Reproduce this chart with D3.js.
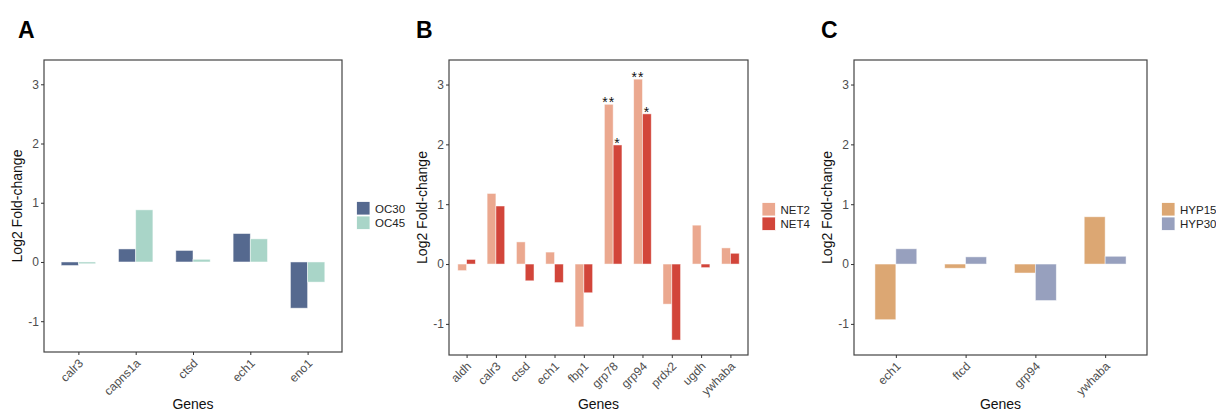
<meta charset="utf-8">
<script src="https://cdn.jsdelivr.net/npm/d3@7"></script>

<style>
  body { margin: 0; background: #fff; }
  text { font-family: "Liberation Sans", Arial, sans-serif; }
  .tick line { stroke: #333; }
  .tick text { fill: #4d4d4d; }
</style>

<div id="chart"></div>

<script>
// ---- data ----
var genesA = ["calr3", "capns1a", "ctsd", "ech1", "eno1"];
var seriesA = ["OC30", "OC45"];
var oc30 = [-0.06, 0.22, 0.195, 0.48, -0.78];
var oc45 = [-0.03, 0.88, 0.045, 0.39, -0.34];

var genesB = ["aldh", "calr3", "ctsd", "ech1", "fbp1", "grp78", "grp94", "prdx2", "ugdh", "ywhaba"];
var seriesB = ["NET2", "NET4"];
var net2 = [-0.11, 1.18, 0.37, 0.2, -1.05, 2.67, 3.09, -0.67, 0.65, 0.27];
var net4 = [0.077, 0.97, -0.28, -0.31, -0.48, 1.99, 2.51, -1.27, -0.06, 0.18];
var sigNet2 = ["", "", "", "", "", "**", "**", "", "", ""];
var sigNet4 = ["", "", "", "", "", "*", "*", "", "", ""];

var genesC = ["ech1", "ftcd", "grp94", "ywhaba"];
var seriesC = ["HYP15", "HYP30"];
var hyp15 = [-0.93, -0.07, -0.15, 0.79];
var hyp30 = [0.255, 0.12, -0.61, 0.13];

var yTicks = [-1, 0, 1, 2, 3];

var svg = d3.select("#chart").append("svg")
  .attr("width", 1216)
  .attr("height", 412);

function drawPanel(p) {
  var g = svg.append("g");

  // x scale: discrete with 0.6 expansion on each side (like ggplot)
  var n = p.genes.length;
  var unit = (p.right - p.left) / (n - 1 + 1.2);
  var x = d3.scalePoint()
    .domain(p.genes)
    .range([p.left + 0.6 * unit, p.right - 0.6 * unit]);

  var y = d3.scaleLinear()
    .domain([-1.52, 3.41])
    .range([p.bottom, p.top]);

  var barW = 0.3 * unit;

  // bars, dodged
  p.values.forEach(function(vals, si) {
    g.selectAll(null)
      .data(vals)
      .enter()
      .append("rect")
        .attr("x", function(d, i) { return x(p.genes[i]) - barW + si * barW; })
        .attr("y", function(d) { return y(Math.max(0, d)); })
        .attr("width", barW)
        .attr("height", function(d) { return Math.abs(y(d) - y(0)); })
        .attr("fill", p.colors[si])
        .attr("stroke", "#ffffff")
        .attr("stroke-opacity", 0.6)
        .attr("stroke-width", 0.8);
  });

  // significance stars
  if (p.sig) {
    p.sig.forEach(function(labels, si) {
      g.selectAll(null)
        .data(labels)
        .enter()
        .append("text")
          .attr("x", function(d, i) { return x(p.genes[i]) - barW / 2 + si * barW; })
          .attr("y", function(d, i) { return y(p.values[si][i]) + 3; })
          .attr("text-anchor", "middle")
          .style("font-size", "14px")
          .style("letter-spacing", "1px")
          .style("fill", "#111")
          .text(function(d) { return d; });
    });
  }

  // panel border
  g.append("rect")
    .attr("x", p.left)
    .attr("y", p.top)
    .attr("width", p.right - p.left)
    .attr("height", p.bottom - p.top)
    .attr("fill", "none")
    .attr("stroke", "#444")
    .attr("stroke-width", 1.2);

  // y axis
  var ya = g.append("g")
    .attr("transform", "translate(" + p.left + ",0)")
    .call(d3.axisLeft(y).tickValues(yTicks).tickSize(3).tickPadding(2)
      .tickFormat(function(d) { return String(d); }));
  ya.select(".domain").remove();
  ya.selectAll("text").style("font-size", "12px");

  // x axis
  var xa = g.append("g")
    .attr("transform", "translate(0," + p.bottom + ")")
    .call(d3.axisBottom(x).tickSize(3));
  xa.select(".domain").remove();
  xa.selectAll("text")
    .attr("y", 0)
    .attr("dy", 0)
    .attr("transform", "translate(5,12) rotate(-45)")
    .style("text-anchor", "end")
    .style("font-size", "12px");

  // axis titles
  g.append("text")
    .attr("transform", "translate(" + p.ylabX + "," + ((p.top + p.bottom) / 2) + ") rotate(-90)")
    .attr("text-anchor", "middle")
    .style("font-size", "14px")
    .style("fill", "#111")
    .text("Log2 Fold-change");

  g.append("text")
    .attr("x", (p.left + p.right) / 2)
    .attr("y", 409)
    .attr("text-anchor", "middle")
    .style("font-size", "14px")
    .style("fill", "#111")
    .text("Genes");

  // panel letter
  g.append("text")
    .attr("x", p.letterX)
    .attr("y", 38)
    .style("font-size", "23px")
    .style("font-weight", "bold")
    .style("fill", "#000")
    .text(p.letter);

  // legend
  p.series.forEach(function(s, si) {
    g.append("rect")
      .attr("x", p.legX)
      .attr("y", p.legY + si * 14.5)
      .attr("width", 13.5)
      .attr("height", 13.5)
      .attr("fill", p.colors[si])
      .attr("stroke", "#fff")
      .attr("stroke-width", 0.8);
    g.append("text")
      .attr("x", p.legX + 18.5)
      .attr("y", p.legY + si * 14.5 + 11)
      .style("font-size", "11.5px")
      .style("fill", "#222")
      .text(s);
  });
}

drawPanel({
  letter: "A", letterX: 18,
  genes: genesA, series: seriesA, values: [oc30, oc45],
  colors: ["#55698f", "#a9d5c8"],
  left: 44, right: 342, top: 60, bottom: 352,
  ylabX: 22, legX: 356.5, legY: 201.5
});

drawPanel({
  letter: "B", letterX: 416,
  genes: genesB, series: seriesB, values: [net2, net4],
  sig: [sigNet2, sigNet4],
  colors: ["#eba88f", "#d2453a"],
  left: 449, right: 748, top: 60, bottom: 355,
  ylabX: 427, legX: 762, legY: 202.5
});

drawPanel({
  letter: "C", letterX: 821,
  genes: genesC, series: seriesC, values: [hyp15, hyp30],
  colors: ["#dca773", "#97a0be"],
  left: 854, right: 1147, top: 60, bottom: 355,
  ylabX: 832, legX: 1161.5, legY: 202.5
});
</script>
